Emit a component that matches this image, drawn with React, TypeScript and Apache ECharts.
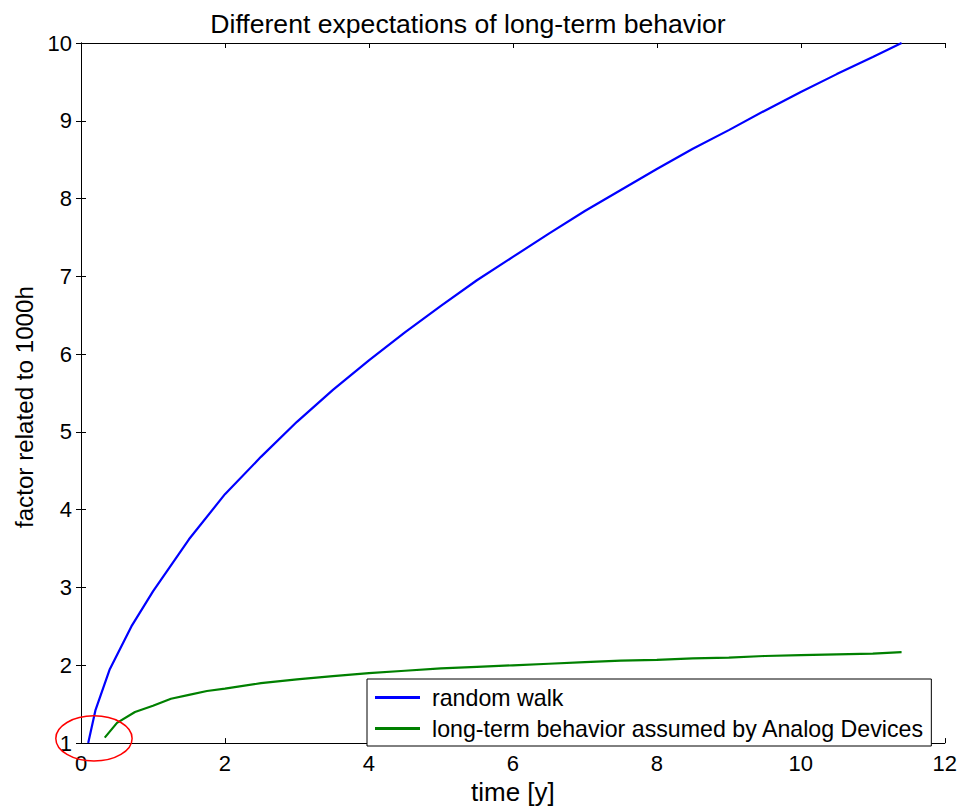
import React, { useEffect, useRef } from "react";
import * as echarts from "echarts";

const TITLE = "Different expectations of long-term behavior";
const X_NAME = "time [y]";
const Y_NAME = "factor related to 1000h";
const SERIES_NAMES = ["random walk", "long-term behavior assumed by Analog Devices"];

const randomWalkX = [0.1, 0.2, 0.4, 0.7, 1, 1.5, 2, 2.5, 3, 3.5, 4, 4.5, 5, 5.5, 6, 6.5, 7, 7.5, 8, 8.5, 9, 9.5, 10, 10.5, 11, 11.4];
const randomWalkY = [1.0, 1.42, 1.95, 2.5, 2.95, 3.62, 4.2, 4.68, 5.13, 5.54, 5.92, 6.28, 6.62, 6.95, 7.25, 7.55, 7.84, 8.11, 8.38, 8.64, 8.88, 9.13, 9.37, 9.6, 9.82, 10.0];

const adX = [0.33, 0.5, 0.75, 1, 1.25, 1.5, 1.75, 2, 2.5, 3, 3.5, 4, 4.5, 5, 5.5, 6, 6.5, 7, 7.5, 8, 8.5, 9, 9.5, 10, 10.5, 11, 11.4];
const adY = [1.07, 1.26, 1.4, 1.48, 1.57, 1.62, 1.67, 1.7, 1.77, 1.82, 1.86, 1.9, 1.93, 1.96, 1.98, 2.0, 2.02, 2.04, 2.06, 2.07, 2.09, 2.1, 2.12, 2.13, 2.14, 2.15, 2.17];

// annotation ellipse in data units
const ELLIPSE_CENTER = [0.18, 1.06];
const ELLIPSE_HALF = [0.53, 0.29];

const FONT = "'Liberation Sans', Arial, Helvetica, sans-serif";

export default function App() {
  const ref = useRef<HTMLDivElement>(null);
  useEffect(() => {
    if (!ref.current) return;
    const chart = echarts.init(ref.current, null, { renderer: "svg" });
    const axisLine = { show: true, lineStyle: { color: "#000", width: 1 } };
    const tickIn = { show: true, inside: true, length: 5, lineStyle: { color: "#000", width: 1 } };
    const labelStyle = { color: "#000", fontSize: 22, fontFamily: FONT };
    chart.setOption({
      animation: false,
      backgroundColor: "#fff",
      title: {
        text: TITLE,
        left: 463,
        textAlign: "center",
        top: 5,
        textStyle: { color: "#000", fontSize: 26.6, fontWeight: "normal", fontFamily: FONT },
      },
      grid: { left: 81, top: 43, right: 15, bottom: 62, containLabel: false },
      legend: {
        orient: "vertical",
        left: 367,
        top: 679,
        padding: [7, 7, 6, 8],
        itemGap: 8,
        itemWidth: 45,
        itemHeight: 3,
        icon: "rect",
        backgroundColor: "#fff",
        borderColor: "#000",
        borderWidth: 1,
        borderRadius: 0,
        textStyle: { color: "#000", fontSize: 23.2, fontFamily: FONT, lineHeight: 23, padding: [0, 0, 0, 7] },
        data: SERIES_NAMES,
      },
      xAxis: [
        {
          type: "value",
          min: 0,
          max: 12,
          interval: 2,
          name: X_NAME,
          nameLocation: "middle",
          nameGap: 33,
          nameTextStyle: { color: "#000", fontSize: 26, fontFamily: FONT },
          axisLine,
          axisTick: tickIn,
          axisLabel: { ...labelStyle, margin: 9 },
          splitLine: { show: false },
        },
        {
          type: "value",
          position: "top",
          min: 0,
          max: 12,
          interval: 2,
          axisLine,
          axisTick: tickIn,
          axisLabel: { show: false },
          splitLine: { show: false },
        },
      ],
      yAxis: [
        {
          type: "value",
          min: 1,
          max: 10,
          interval: 1,
          name: Y_NAME,
          nameLocation: "middle",
          nameGap: 40,
          nameTextStyle: { color: "#000", fontSize: 24.2, fontFamily: FONT, padding: [0, 28, 0, 0] },
          axisLine,
          axisTick: tickIn,
          axisLabel: { ...labelStyle, margin: 9 },
          splitLine: { show: false },
        },
        {
          type: "value",
          position: "right",
          min: 1,
          max: 10,
          interval: 1,
          axisLine,
          axisTick: tickIn,
          axisLabel: { show: false },
          splitLine: { show: false },
        },
      ],
      series: [
        {
          name: SERIES_NAMES[0],
          type: "line",
          symbol: "none",
          data: randomWalkX.map((x, i) => [x, randomWalkY[i]]),
          lineStyle: { color: "#0000ff", width: 2.2 },
          itemStyle: { color: "#0000ff" },
          z: 3,
        },
        {
          name: SERIES_NAMES[1],
          type: "line",
          symbol: "none",
          data: adX.map((x, i) => [x, adY[i]]),
          lineStyle: { color: "#008000", width: 2.2 },
          itemStyle: { color: "#008000" },
          z: 3,
        },
      ],
    });
    const c = chart.convertToPixel({ gridIndex: 0 }, ELLIPSE_CENTER) as number[];
    const e = chart.convertToPixel({ gridIndex: 0 }, [
      ELLIPSE_CENTER[0] + ELLIPSE_HALF[0],
      ELLIPSE_CENTER[1] + ELLIPSE_HALF[1],
    ]) as number[];
    chart.setOption({
      graphic: [
        {
          type: "ellipse",
          z: 100,
          shape: { cx: c[0], cy: c[1], rx: Math.abs(e[0] - c[0]), ry: Math.abs(c[1] - e[1]) },
          style: { fill: "none", stroke: "#ff0000", lineWidth: 1.5 },
        },
      ],
    });
    return () => chart.dispose();
  }, []);
  return (
    <div
      ref={ref}
      style={{ position: "fixed", left: 0, top: 0, width: 960, height: 810, background: "#fff" }}
    />
  );
}
